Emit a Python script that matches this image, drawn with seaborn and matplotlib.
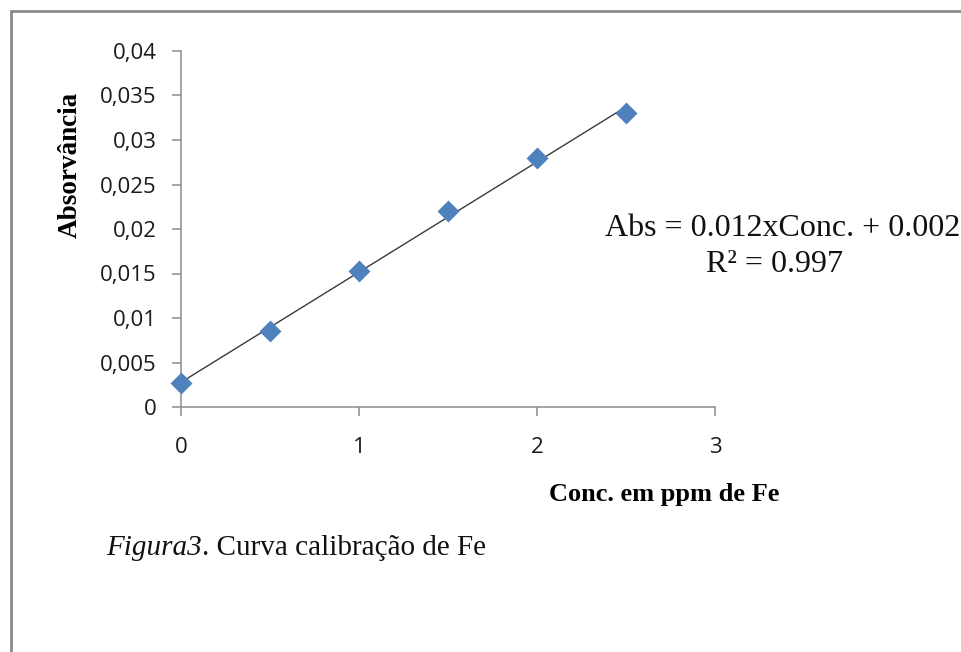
import matplotlib
matplotlib.use("Agg")
import matplotlib.pyplot as plt
import seaborn as sns
import pandas as pd
from matplotlib.lines import Line2D

# Data
conc = [0.0, 0.5, 1.0, 1.5, 2.0, 2.5]
absorb = [0.0027, 0.0085, 0.0153, 0.0220, 0.0280, 0.0330]
x_ticks = [0, 1, 2, 3]
y_ticks = [0, 0.005, 0.01, 0.015, 0.02, 0.025, 0.03, 0.035, 0.04]
y_tick_labels = ["0", "0,005", "0,01", "0,015", "0,02", "0,025", "0,03", "0,035", "0,04"]
x_label = "Conc. em ppm de Fe"
y_label = "Absorvância"
eq_line1 = "Abs = 0.012xConc. + 0.002"
eq_line2 = "R² = 0.997"

df = pd.DataFrame({"conc": conc, "abs": absorb})

sns.set_style("white")
tick_font = "Open Sans"
serif = "Liberation Serif"

fig = plt.figure(figsize=(9.61, 6.52), dpi=100)
ax = fig.add_axes([181 / 961, 1 - 407 / 652, 534 / 961, 356 / 652])

sns.regplot(data=df, x="conc", y="abs", ax=ax, scatter=False, ci=None,
            line_kws=dict(color="#3a3a3a", lw=1.0))
sns.scatterplot(data=df, x="conc", y="abs", ax=ax, marker="D", s=125,
                color="#4f81bd", edgecolor="#4f81bd", linewidth=0, zorder=3,
                clip_on=False)

ax.set_xlim(0, 3)
ax.set_ylim(0, 0.04)
ax.set_xticks(x_ticks)
ax.set_xticklabels([str(v) for v in x_ticks])
ax.set_yticks(y_ticks)
ax.set_yticklabels(y_tick_labels)

for side in ["top", "right"]:
    ax.spines[side].set_visible(False)
for side in ["left", "bottom"]:
    ax.spines[side].set_color("#8c8c8c")
    ax.spines[side].set_linewidth(1.1)
ax.tick_params(axis="x", direction="out", length=6.5, width=1.1, color="#8c8c8c",
               pad=15, labelsize=16, bottom=True)
ax.tick_params(axis="y", direction="out", length=6.5, width=1.1, color="#8c8c8c",
               pad=11, labelsize=16, left=True)
for lab in ax.get_xticklabels() + ax.get_yticklabels():
    lab.set_fontfamily(tick_font)
    lab.set_color("#1a1a1a")

ax.set_xlabel(x_label, fontfamily=serif, fontweight="bold", fontsize=19, color="black")
ax.set_ylabel(y_label, fontfamily=serif, fontweight="bold", fontsize=19.5, color="black")
ax.xaxis.set_label_coords((664 - 181) / 534, (407 - 495) / 356)
ax.xaxis.label.set_va("center")
ax.yaxis.set_label_coords((70 - 181) / 534, (407 - 165) / 356)
ax.yaxis.label.set_va("center")

# equation text
fig.text(783 / 961, 1 - 228 / 652, eq_line1, fontfamily=serif, fontsize=23,
         ha="center", va="center", color="#111111")
fig.text(775 / 961, 1 - 265 / 652, eq_line2, fontfamily=serif, fontsize=23,
         ha="center", va="center", color="#111111")

# caption
t1 = fig.text(106 / 961, 1 - 545 / 652, "Figura3", fontfamily=serif, fontstyle="italic",
              fontsize=21, ha="left", va="center_baseline", color="#111111")
ax.annotate(". Curva calibração de Fe", xy=(1, 0), xycoords=t1, fontfamily=serif,
            fontsize=21, ha="left", va="bottom", color="#111111", annotation_clip=False)

# outer frame (left and top edges visible)
fig.add_artist(Line2D([10.5 / 961, 10.5 / 961], [0, 1 - 11 / 652], transform=fig.transFigure,
                      color="#8a8a8a", lw=2))
fig.add_artist(Line2D([10.5 / 961, 1], [1 - 11 / 652, 1 - 11 / 652], transform=fig.transFigure,
                      color="#8a8a8a", lw=2))

fig.savefig("out.png", dpi=100)
